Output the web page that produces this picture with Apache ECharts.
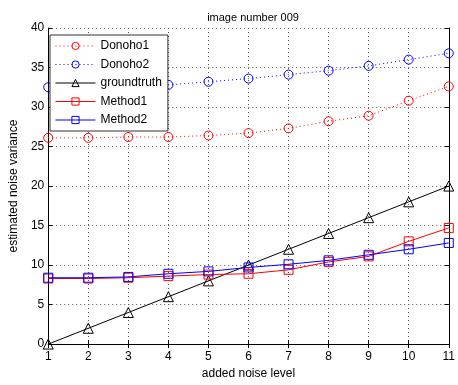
<!DOCTYPE html>
<html>
<head>
<meta charset="utf-8">
<script src="https://cdn.jsdelivr.net/npm/echarts@6/dist/echarts.min.js"></script>
<style>
  html, body { margin: 0; padding: 0; background: #fff; }
  #chart { width: 458px; height: 385px; }
</style>
</head>
<body>
<div id="chart"></div>
<script>
// noise levels on the x axis
const noiseLevels = [1, 2, 3, 4, 5, 6, 7, 8, 9, 10, 11]
// estimated noise variance
const donoho1 = [26.1, 26.1, 26.2, 26.2, 26.4, 26.7, 27.3, 28.2, 28.9, 30.8, 32.6]
const donoho2 = [32.5, 32.6, 32.7, 32.8, 33.2, 33.6, 34.1, 34.6, 35.2, 36.0, 36.8]
const groundtruth = [0, 2, 4, 6, 8, 10, 12, 14, 16, 18, 20]
const method1 = [8.3, 8.3, 8.4, 8.6, 8.8, 8.9, 9.4, 10.4, 11.1, 13.0, 14.7]
const method2 = [8.4, 8.4, 8.5, 8.9, 9.2, 9.7, 10.1, 10.6, 11.3, 12.0, 12.8]
const xTicks = [1, 11, 1]   // min, max, step
const yTicks = [0, 40, 5]

const font = 'Liberation Sans, Arial, sans-serif'

function pairs(values) {
  return noiseLevels.map((x, i) => [x, values[i]])
}

function makeSeries(name, values, color, symbol, size, dotted) {
  return {
    name: name,
    type: 'line',
    data: pairs(values),
    symbol: symbol,
    symbolSize: size,
    showAllSymbol: true,
    lineStyle: {
      color: color,
      width: 1,
      type: dotted ? [1, 3] : 'solid',
    },
    itemStyle: {
      color: 'transparent',
      borderColor: color,
      borderWidth: 1,
    },
    emphasis: { disabled: true },
    animation: false,
  }
}

const chart = echarts.init(document.getElementById('chart'))

const frameAxis = {
  axisLine: { show: true, lineStyle: { color: '#000', width: 1 } },
  axisTick: { show: true, inside: true, length: 4, lineStyle: { color: '#000' } },
  axisLabel: { show: false },
  splitLine: { show: false },
}

const option = {
  backgroundColor: '#fff',
  animation: false,
  title: {
    text: 'image number 009',
    left: 248,
    textAlign: 'center',
    top: 7,
    textStyle: { fontFamily: font, fontSize: 11, fontWeight: 'normal', color: '#000' },
  },
  grid: { left: 43, right: 4, top: 28, bottom: 35 },
  legend: {
    orient: 'vertical',
    left: 50,
    top: 35,
    itemWidth: 40,
    itemHeight: 9,
    itemGap: 6.5,
    padding: [5, 6, 5, 5],
    backgroundColor: '#fff',
    borderColor: '#333',
    borderWidth: 1,
    borderRadius: 0,
    selectedMode: false,
    lineStyle: { width: 1 },
    itemStyle: { borderWidth: 1 },
    textStyle: { fontFamily: font, fontSize: 12, color: '#000' },
    data: ['Donoho1', 'Donoho2', 'groundtruth', 'Method1', 'Method2'],
  },
  xAxis: [
    {
      type: 'value',
      min: xTicks[0],
      max: xTicks[1],
      interval: xTicks[2],
      name: 'added noise level',
      nameLocation: 'middle',
      nameGap: 20,
      nameTextStyle: { fontFamily: font, fontSize: 12, color: '#000' },
      axisLine: { show: true, onZero: false, lineStyle: { color: '#000', width: 1 } },
      axisTick: { show: true, inside: true, length: 4, lineStyle: { color: '#000' } },
      axisLabel: { fontFamily: font, fontSize: 12, color: '#000', margin: 7 },
      splitLine: { show: true, lineStyle: { color: '#555', type: [1, 3], width: 1 } },
    },
    {
      type: 'value',
      position: 'top',
      min: xTicks[0],
      max: xTicks[1],
      interval: xTicks[2],
      ...frameAxis,
    },
  ],
  yAxis: [
    {
      type: 'value',
      min: yTicks[0],
      max: yTicks[1],
      interval: yTicks[2],
      name: 'estimated noise variance',
      nameLocation: 'middle',
      nameGap: 27,
      nameTextStyle: { fontFamily: font, fontSize: 12, color: '#000' },
      axisLine: { show: true, onZero: false, lineStyle: { color: '#000', width: 1 } },
      axisTick: { show: true, inside: true, length: 4, lineStyle: { color: '#000' } },
      axisLabel: { fontFamily: font, fontSize: 12, color: '#000', margin: 4 },
      splitLine: { show: true, lineStyle: { color: '#555', type: [1, 3], width: 1 } },
    },
    {
      type: 'value',
      position: 'right',
      min: yTicks[0],
      max: yTicks[1],
      interval: yTicks[2],
      ...frameAxis,
    },
  ],
  series: [
    makeSeries('Donoho1', donoho1, '#ff0000', 'circle', 9, true),
    makeSeries('Donoho2', donoho2, '#0000ff', 'circle', 9, true),
    makeSeries('groundtruth', groundtruth, '#000000', 'triangle', 10, false),
    makeSeries('Method1', method1, '#ff0000', 'rect', 9, false),
    makeSeries('Method2', method2, '#0000ff', 'rect', 9, false),
  ],
}

chart.setOption(option)
</script>
</body>
</html>
